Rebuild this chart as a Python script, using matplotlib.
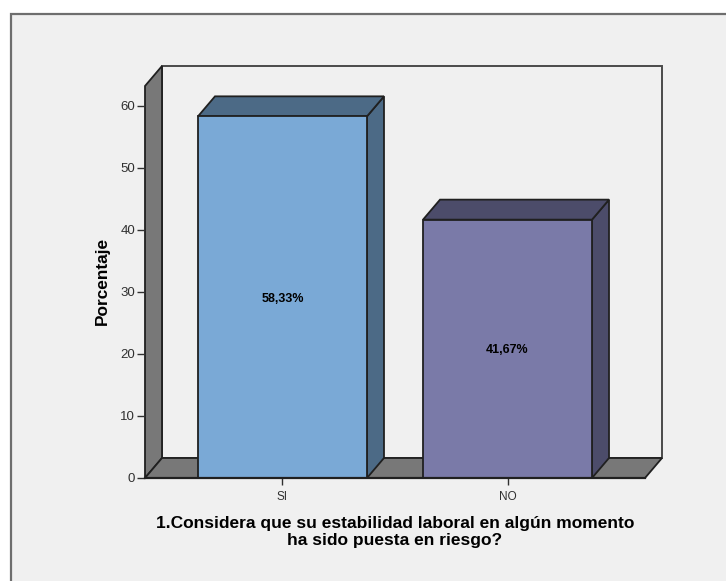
# 3D-look bar chart of the job stability survey question
import matplotlib
matplotlib.use("Agg")
import matplotlib.pyplot as plt
from matplotlib.patches import Polygon, Rectangle

plt.rcParams['font.family'] = ['Liberation Sans', 'DejaVu Sans']

# Data
categories = ['SI', 'NO']
percentages = [58.33, 41.67]
value_labels = ['58,33%', '41,67%']
y_ticks = [0, 10, 20, 30, 40, 50, 60]
x_title = '1.Considera que su estabilidad laboral en algún momento\nha sido puesta en riesgo?'
y_title = 'Porcentaje'

# Colors
bg_color = '#f0f0f0'
wall_color = '#787878'
front_colors = ['#7aa9d6', '#7a7aa8']
side_colors = ['#4c6a86', '#4c4c6a']

W, H = 726, 581
fig = plt.figure(figsize=(W / 100, H / 100), dpi=100, facecolor='white')


def fig_rect(x0, y0, x1, y1):
    # pixel box measured from the top left, as figure fractions
    return [x0 / W, 1 - y1 / H, (x1 - x0) / W, (y1 - y0) / H]


# Chart panel, runs off the right and bottom, dark border on top and left only
panel = fig.add_axes([0, 0, 1, 1], zorder=0)
panel.set_xlim(0, W)
panel.set_ylim(H, 0)
panel.axis('off')
panel.add_patch(Rectangle((10, 13), W - 10, H - 13, fc=bg_color, ec='none'))
panel.plot([10.5, 10.5, W], [H, 13.5, 13.5], color='#6e6e6e', lw=1.6, solid_joinstyle='miter')

# Plot axes: front plane only, depth is added per shape
ax = fig.add_axes(fig_rect(145, 66, 645, 478), zorder=1)
ax.patch.set_alpha(0)
ax.set_xlim(-0.611, 1.611)
ax.set_ylim(0, 66.45)
for s in ['top', 'right', 'bottom', 'left']:
    ax.spines[s].set_visible(False)

dx = 17 / 225   # depth in category units
dy = 20 / 6.2   # depth in percentage units
bar_w = 0.751
x_lo, x_hi = ax.get_xlim()
y_top = ax.get_ylim()[1]
line_kw = dict(ec='#202020', lw=1.3, clip_on=False, joinstyle='miter')

# Back wall, left wall and floor
ax.add_patch(Polygon([(x_lo + dx, dy), (x_hi + dx, dy), (x_hi + dx, y_top), (x_lo + dx, y_top)],
                     fc=bg_color, ec='#4a4a4a', lw=1.4, clip_on=False))
ax.add_patch(Polygon([(x_lo, 0), (x_lo + dx, dy), (x_lo + dx, y_top), (x_lo, y_top - dy)],
                     fc=wall_color, **line_kw))
ax.add_patch(Polygon([(x_lo, 0), (x_hi, 0), (x_hi + dx, dy), (x_lo + dx, dy)],
                     fc=wall_color, **line_kw))

# Bars: front, top and side faces
for i, val in enumerate(percentages):
    l, r = i - bar_w / 2, i + bar_w / 2
    ax.add_patch(Polygon([(r, 0), (r + dx, dy), (r + dx, val + dy), (r, val)],
                         fc=side_colors[i], zorder=3, **line_kw))
    ax.add_patch(Polygon([(l, val), (r, val), (r + dx, val + dy), (l + dx, val + dy)],
                         fc=side_colors[i], zorder=3, **line_kw))
    ax.add_patch(Rectangle((l, 0), bar_w, val, fc=front_colors[i], zorder=4, **line_kw))
    ax.annotate(value_labels[i], (i, val / 2), xytext=(0, -1.2), textcoords='offset points',
                ha='center', va='center', fontsize=9, fontweight='bold', color='black', zorder=5)

# Front edge of the floor
ax.plot([x_lo, x_hi], [0, 0], color='#202020', lw=1.6, zorder=6, clip_on=False)

ax.set_xticks(range(len(categories)), categories)
ax.set_yticks(y_ticks)
ax.tick_params(axis='both', width=1, color='#303030', labelcolor='#303030')
ax.tick_params(axis='y', length=6, pad=1, labelsize=9.5)
ax.tick_params(axis='x', length=5, pad=4, labelsize=8.5)

fig.text(395 / W, 1 - 532 / H, x_title, ha='center', va='center', fontsize=12.5,
         fontweight='bold', color='black', linespacing=1.1)
fig.text(102 / W, 1 - 281 / H, y_title, ha='center', va='center', rotation=90,
         fontsize=12.4, fontweight='bold', color='black')

fig.savefig('out.png', dpi=100, facecolor='white')
